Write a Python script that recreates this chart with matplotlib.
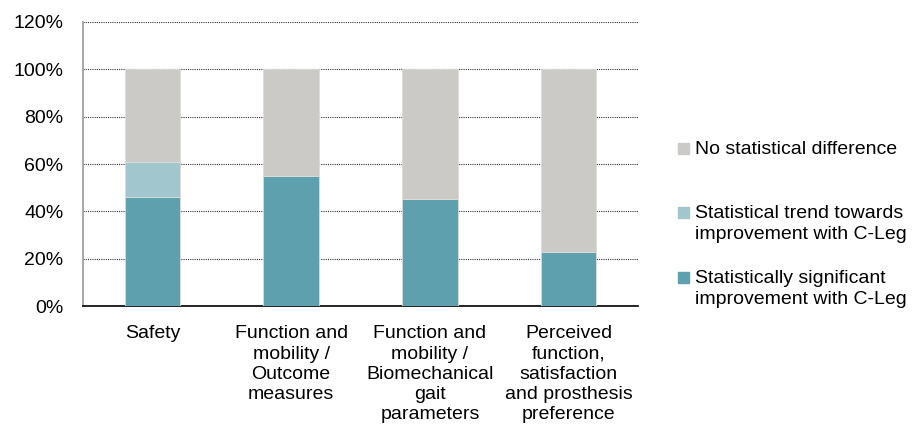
import matplotlib
matplotlib.use("Agg")
import matplotlib.pyplot as plt
import numpy as np
from matplotlib.patches import Rectangle
from matplotlib.ticker import FuncFormatter

categories = ["Safety", "Function and\nmobility /\nOutcome\nmeasures",
              "Function and\nmobility /\nBiomechanical\ngait\nparameters",
              "Perceived\nfunction,\nsatisfaction\nand prosthesis\npreference"]
significant = [46, 55, 45, 23]
trend = [15, 0, 0, 0]
no_difference = [39, 45, 55, 77]

labels = ["Statistically significant\nimprovement with C-Leg",
          "Statistical trend towards\nimprovement with C-Leg",
          "No statistical difference"]
colors = ["#5fa0ae", "#a2c6ce", "#cbcac6"]

plt.rcParams["font.family"] = ["Liberation Sans", "DejaVu Sans"]
plt.rcParams["font.size"] = 14

W, H = 914, 436
fig = plt.figure(figsize=(W / 100, H / 100), dpi=100)
ax = fig.add_axes([83 / W, 1 - 306 / H, 555 / W, 284 / H])

x = np.arange(len(categories))
w = 0.4
bottom = np.zeros(len(categories))
for vals, col, lab in zip([significant, trend, no_difference], colors, labels):
    ax.bar(x, vals, w, bottom=bottom, color=col, edgecolor="#dcdcd8",
           linewidth=0.6, label=lab, zorder=3)
    bottom += np.array(vals)

ax.set_xlim(-0.5, 3.5)
ax.set_ylim(0, 120)
ax.set_yticks(range(0, 121, 20))
ax.yaxis.set_major_formatter(FuncFormatter(lambda v, p: f"{int(v)}%"))
ax.grid(axis="y", ls=(0, (1, 1)), color="#333333", lw=0.8, zorder=0)
ax.set_xticks(x)
ax.set_xticklabels(categories, linespacing=1.25)
ax.tick_params(axis="x", length=0, pad=14)
ax.tick_params(axis="y", length=0, pad=14)
for s in ["top", "right"]:
    ax.spines[s].set_visible(False)
ax.spines["left"].set_color("#999999")
ax.spines["left"].set_linewidth(1.2)
ax.spines["bottom"].set_color("black")
ax.spines["bottom"].set_linewidth(1.2)

# legend: square next to the first line of each label (top entry = last series)
leg_y = [148, 212, 277]   # centre of each entry's first line, px from top
for yy, col, lab in zip(leg_y, colors[::-1], labels[::-1]):
    fig.patches.append(Rectangle((678 / W, 1 - (yy + 5.5) / H), 11 / W, 11 / H,
                                 transform=fig.transFigure, color=col))
    fig.text(695 / W, 1 - (yy - 7) / H, lab, ha="left", va="top",
             linespacing=1.3, fontsize=14)

fig.savefig("out.png", dpi=100)
